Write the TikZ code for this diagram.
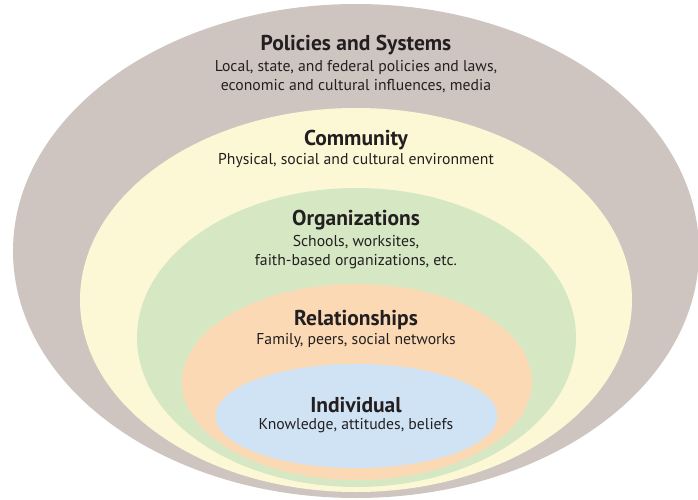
\documentclass[tikz,border=0pt]{standalone}
\usepackage{fontspec}
\setmainfont{PT Sans}
\definecolor{txt}{HTML}{231F20}
\definecolor{policy}{HTML}{CFC5C0}
\definecolor{commun}{HTML}{FCF8D5}
\definecolor{organ}{HTML}{D5E8C3}
\definecolor{relat}{HTML}{FAD9B4}
\definecolor{indiv}{HTML}{CFE3F5}
\tikzset{
  ttl/.style={font=\fontsize{21.5}{23}\selectfont\bfseries, text=txt, inner sep=0pt},
  sub/.style={font=\fontsize{15.7}{19}\selectfont, text=txt, inner sep=0pt, align=center},
}
\begin{document}
\begin{tikzpicture}[x=1pt,y=-1pt]
\useasboundingbox (0,0) rectangle (698,500);
\fill[policy] (356,251) ellipse [x radius=343, y radius=247];
\fill[commun] (356,300) ellipse [x radius=276, y radius=192];
\fill[organ] (356.5,337.5) ellipse [x radius=219.5, y radius=149.5];
\fill[relat] (357,382) ellipse [x radius=175, y radius=98];
\fill[indiv] (356.5,416) ellipse [x radius=141, y radius=52];

\node[ttl] (pt) at (356,45) {Policies and Systems};
\node[sub] (ps) at (356,77) {Local, state, and federal policies and laws,\\economic and cultural influences, media};
\node[ttl] (ct) at (356,140) {Community};
\node[sub] (cs) at (356,161) {Physical, social and cultural environment};
\node[ttl] (ot) at (356,220) {Organizations};
\node[sub] (os) at (356,252) {Schools, worksites,\\faith-based organizations, etc.};
\node[ttl] (rt) at (356,320) {Relationships};
\node[sub] (rs) at (356,341) {Family, peers, social networks};
\node[ttl] (it) at (356,405) {Individual};
\node[sub] (is) at (356,426) {Knowledge, attitudes, beliefs};
\end{tikzpicture}
\end{document}
